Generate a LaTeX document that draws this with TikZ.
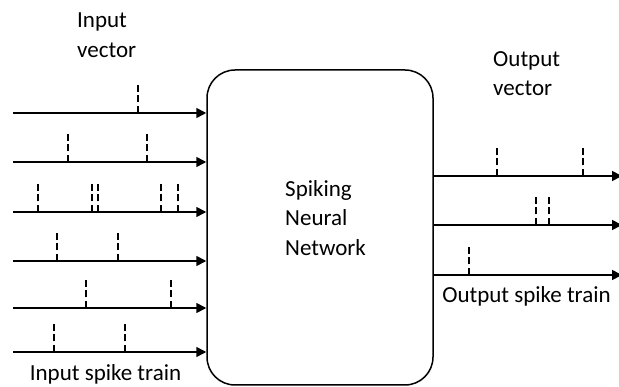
\documentclass[tikz,border=0pt]{standalone}
\usepackage{fontspec}
\setmainfont{Carlito}
\usetikzlibrary{positioning,arrows.meta}

\begin{document}
\begin{tikzpicture}[x=1pt,y=-1pt,font=\fontsize{23}{29.5}\selectfont,
  net/.style={draw,line width=1.5pt,rounded corners=28pt,
              minimum width=226pt,minimum height=315pt,inner sep=0pt},
  a/.style={-{Triangle[length=10pt,width=10pt]},line width=1.6pt},
  spk/.style={line width=1.5pt,dash pattern=on 7pt off 3.5pt},
  lbl/.style={align=left,inner sep=0pt}]
\useasboundingbox (0,0) rectangle (619,387);
% the network block
\node[net](snn) at (320,227.5){};
\node[lbl,anchor=west](snnlbl) at (285,218){Spiking\\Neural\\Network};
% input trains, top to bottom
\foreach \y/\ts [count=\i] in {113/{138}, 162/{68,147}, 212/{38,92,98,161,178},
                               261/{57,118}, 308/{86,171}, 352/{54,125}}{
  \coordinate (in\i) at (13,\y);
  \draw[a](in\i)--(in\i -| snn.west);
  \foreach \t in \ts \draw[spk](\t,\y)--(\t,\y-28);
}
% output trains
\foreach \y/\ts [count=\i] in {176/{497,583}, 225/{536,549}, 275/{469}}{
  \coordinate (out\i) at (622,\y);
  \draw[a](out\i -| snn.east)--(out\i);
  \foreach \t in \ts \draw[spk](\t,\y)--(\t,\y-28);
}
% labels
\node[lbl,anchor=west](invec) at (77,35){Input\\vector};
\node[lbl,anchor=west](outvec) at (493,73.5){Output\\vector};
\node[inner sep=0pt,anchor=base](intrain) at (105.5,381){Input spike train};
\node[inner sep=0pt,anchor=base](outtrain) at (526.5,303){Output spike train};
\end{tikzpicture}
\end{document}
